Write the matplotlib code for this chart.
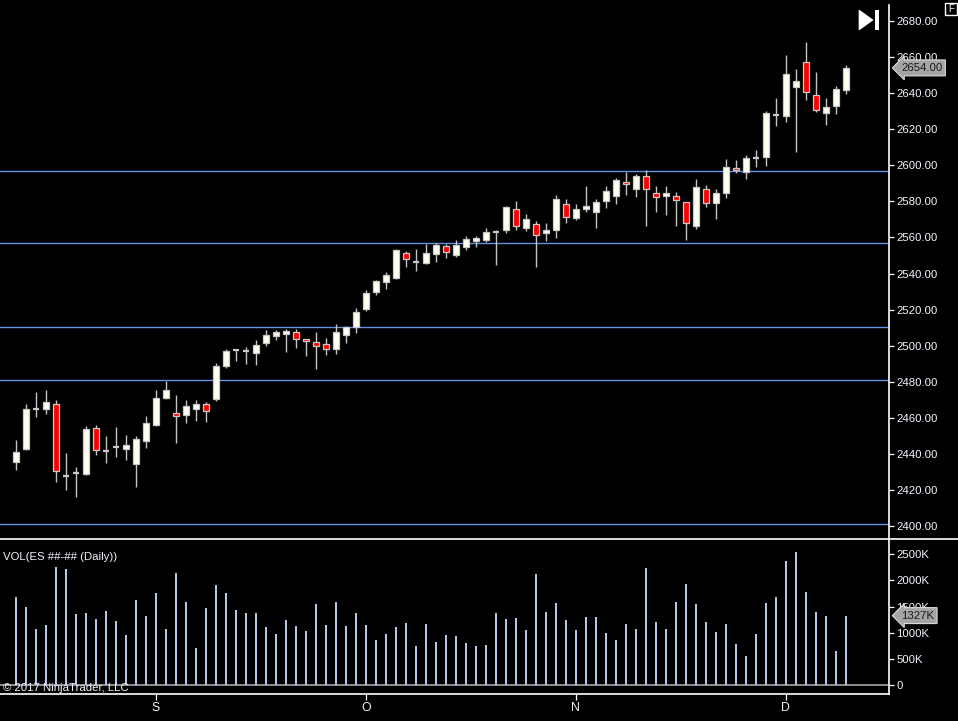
import numpy as np
import matplotlib
matplotlib.use("Agg")
import matplotlib.pyplot as plt
from matplotlib.patches import Polygon, Rectangle
from matplotlib.lines import Line2D
import matplotlib.transforms as mtransforms

plt.rcParams['font.family'] = ['Liberation Sans', 'DejaVu Sans']

# ---------------- data ----------------
opens = [2435.3, 2442.5, 2465.0, 2465.0, 2467.5, 2427.6, 2429.6, 2429.0, 2454.2, 2441.7,
         2443.6, 2442.9, 2434.5, 2447.3, 2456.2, 2471.1, 2462.5, 2461.4, 2464.7, 2467.5,
         2470.2, 2488.9, 2497.7, 2497.2, 2496.1, 2501.6, 2505.5, 2506.3, 2507.4, 2503.5,
         2501.9, 2500.7, 2498.0, 2505.7, 2510.5, 2520.5, 2529.9, 2535.5, 2537.7, 2551.2,
         2546.2, 2546.0, 2551.0, 2555.1, 2550.4, 2554.9, 2558.2, 2558.7, 2563.2, 2563.9,
         2575.6, 2565.1, 2567.3, 2562.3, 2563.9, 2578.4, 2570.6, 2575.6, 2573.9, 2580.0,
         2582.8, 2590.6, 2586.7, 2593.9, 2584.5, 2582.8, 2582.8, 2579.5, 2566.5, 2586.7,
         2578.9, 2584.5, 2598.3, 2596.1, 2604.2, 2604.8, 2627.9, 2627.5, 2643.2, 2657.1,
         2638.8, 2629.2, 2633.0, 2641.9]
highs = [2447.7, 2467.6, 2474.3, 2475.4, 2469.9, 2440.5, 2432.7, 2455.4, 2456.0, 2449.9,
         2454.9, 2450.5, 2449.9, 2461.0, 2475.4, 2480.4, 2472.6, 2469.9, 2469.9, 2468.8,
         2490.4, 2498.1, 2497.9, 2499.2, 2503.1, 2508.7, 2508.7, 2509.2, 2509.2, 2503.7,
         2507.6, 2504.2, 2512.0, 2511.1, 2520.7, 2530.9, 2536.4, 2540.7, 2553.6, 2552.5,
         2553.6, 2556.4, 2556.7, 2556.2, 2558.4, 2560.6, 2560.6, 2565.1, 2563.9, 2577.4,
         2580.0, 2572.8, 2568.9, 2567.8, 2583.4, 2581.1, 2578.4, 2588.3, 2581.1, 2588.3,
         2592.8, 2596.3, 2595.0, 2597.2, 2588.3, 2588.5, 2585.0, 2579.8, 2592.2, 2588.9,
         2586.7, 2603.3, 2602.8, 2605.5, 2608.3, 2629.9, 2637.1, 2661.1, 2653.4, 2668.4,
         2651.7, 2637.1, 2643.8, 2655.4]
lows = [2431.0, 2442.0, 2460.6, 2462.3, 2424.6, 2420.1, 2416.2, 2428.4, 2439.5, 2435.1,
        2438.4, 2436.8, 2421.8, 2443.4, 2455.6, 2470.6, 2446.2, 2457.3, 2458.4, 2457.8,
        2469.5, 2487.8, 2491.7, 2490.0, 2489.4, 2500.0, 2503.3, 2496.6, 2498.9, 2494.4,
        2487.2, 2495.0, 2495.5, 2501.6, 2507.2, 2519.4, 2528.2, 2531.4, 2537.1, 2543.8,
        2541.6, 2545.4, 2546.5, 2548.8, 2549.3, 2553.2, 2554.9, 2557.5, 2544.9, 2562.3,
        2563.9, 2563.4, 2543.8, 2558.2, 2559.9, 2568.2, 2569.5, 2573.9, 2565.1, 2576.1,
        2578.4, 2583.4, 2582.2, 2566.2, 2573.9, 2572.6, 2566.5, 2558.6, 2564.5, 2577.0,
        2570.4, 2581.7, 2595.6, 2592.2, 2599.2, 2599.8, 2621.9, 2624.2, 2607.5, 2636.4,
        2629.7, 2622.5, 2628.6, 2639.7]
closes = [2440.9, 2464.7, 2465.0, 2468.6, 2430.3, 2427.6, 2429.6, 2453.6, 2442.3, 2441.7,
          2443.6, 2444.7, 2448.1, 2456.9, 2470.8, 2475.2, 2460.8, 2466.4, 2467.5, 2463.6,
          2488.7, 2497.0, 2497.7, 2497.2, 2500.2, 2505.7, 2507.4, 2508.0, 2503.5, 2502.4,
          2499.6, 2498.0, 2507.6, 2510.5, 2518.5, 2529.0, 2535.7, 2539.0, 2552.9, 2547.9,
          2546.2, 2551.2, 2555.6, 2552.1, 2555.6, 2559.0, 2559.5, 2562.8, 2563.2, 2576.7,
          2566.2, 2570.1, 2561.2, 2563.9, 2581.1, 2571.2, 2575.6, 2577.3, 2579.5, 2585.6,
          2591.7, 2589.5, 2593.9, 2586.7, 2582.2, 2584.5, 2580.6, 2567.8, 2587.8, 2578.9,
          2584.5, 2598.9, 2597.2, 2603.9, 2604.2, 2628.8, 2627.9, 2650.4, 2646.6, 2640.8,
          2630.8, 2632.1, 2642.1, 2654.0]
volume_k = [1679, 1489, 1070, 1146, 2249, 2211, 1356, 1375, 1260, 1413,
            1222, 956, 1622, 1318, 1755, 1070, 2135, 1584, 709, 1470,
            1907, 1755, 1432, 1375, 1375, 1108, 975, 1241, 1127, 1032,
            1546, 1146, 1584, 1127, 1375, 1146, 861, 975, 1108, 1184,
            747, 1165, 823, 956, 937, 804, 747, 766, 1375, 1260,
            1279, 1051, 2116, 1394, 1565, 1241, 1051, 1298, 1298, 994,
            861, 1165, 1070, 2230, 1203, 1070, 1584, 1926, 1546, 1203,
            1013, 1165, 785, 557, 975, 1565, 1679, 2363, 2534, 1774,
            1394, 1318, 652, 1327]
level_lines = [2596.7, 2556.7, 2510.3, 2480.8, 2400.9]
month_pos = [14, 35, 56, 77]
month_labels = ['S', 'O', 'N', 'D']
price_ticks = list(range(2400, 2681, 20))
vol_ticks = [0, 500, 1000, 1500, 2000, 2500]
last_price = closes[-1]
last_vol = volume_k[-1]
vol_title = 'VOL(ES ##-## (Daily))'
copyright_txt = '\u00a9 2017 NinjaTrader, LLC'

# ---------------- layout ----------------
W, H = 958, 721
fig = plt.figure(figsize=(W / 100, H / 100), dpi=100, facecolor='black')

axis_x = 889.3
main_top, main_bot = 5, 539
vol_top, vol_bot = 539, 694.3

ax = fig.add_axes([0, 1 - main_bot / H, axis_x / W, (main_bot - main_top) / H])
axv = fig.add_axes([0, 1 - vol_bot / H, axis_x / W, (vol_bot - vol_top) / H])

TXT = '#f2f5ff'
FS = 8.2
for a in (ax, axv):
    a.set_facecolor('black')
    for s in ('left', 'top', 'bottom'):
        a.spines[s].set_visible(False)
    a.spines['right'].set_color('white')
    a.spines['right'].set_linewidth(1.2)
    a.yaxis.tick_right()
    a.tick_params(axis='y', colors='white', labelcolor=TXT, labelsize=FS,
                  length=3.8, width=0.9, pad=1.2, direction='out')

n = len(closes)
x = np.arange(n)
O = np.array(opens); Hh = np.array(highs); L = np.array(lows); C = np.array(closes)

# price pixel scale: 2400 at y=526, 2680 at y=21
ppx = (526 - 21) / 280.0
ax.set_ylim(2400 - (main_bot - 526) / ppx, 2680 + (21 - main_top) / ppx)
xl = (-15.7 / 10.0, (axis_x - 15.7) / 10.0)
ax.set_xlim(*xl)
axv.set_xlim(*xl)

for lv in level_lines:
    ax.axhline(lv, color='#6692e0', lw=1.0, zorder=0.5)

ax.vlines(x, L, Hh, color='#c4c4c4', lw=1.0, zorder=1)
diff = C - O
doji = np.abs(diff) < 0.05
body = ~doji
up = C >= O
cols = np.where(up, '#fffff2', '#ff0000')
ax.bar(x[body], np.abs(diff[body]), bottom=np.minimum(O, C)[body], width=0.56,
       color=cols[body], edgecolor='#c8c8c8', linewidth=0.9, zorder=2)
ax.hlines(C[doji], x[doji] - 0.32, x[doji] + 0.32, color='#c8c8c8', lw=1.6, zorder=2)

ax.set_yticks(price_ticks)
ax.set_yticklabels([f'{t:.2f}' for t in price_ticks])
ax.set_xticks([])

# volume
vpx = (685.3 - 554) / 2500.0
axv.set_ylim(-(vol_bot - 685.3) / vpx, 2500 + (554 - vol_top) / vpx)
axv.axhline(0, color='#a8a8a8', lw=1.2, zorder=0.5)
axv.bar(x, volume_k, width=0.22, color='#b4c6e4', zorder=2)
axv.set_yticks(vol_ticks)
axv.set_yticklabels(['0' if t == 0 else f'{t}K' for t in vol_ticks])
axv.spines['bottom'].set_visible(True)
axv.spines['bottom'].set_color('white')
axv.spines['bottom'].set_linewidth(1.2)
axv.set_xticks(month_pos)
axv.set_xticklabels(month_labels)
axv.tick_params(axis='x', colors='white', labelcolor=TXT, labelsize=FS + 0.6,
                length=4, width=0.9, pad=1.5)

# last value tags
tag_kw = dict(ha='left', va='center', fontsize=FS, color='#1a1a1a',
              textcoords='offset points', annotation_clip=False,
              bbox=dict(boxstyle='larrow,pad=0.26', fc='#a4a4a4', ec='#dcdcdc', lw=0.8))
ax.annotate(f'{last_price:.2f}', xy=(1.0, last_price),
            xycoords=mtransforms.blended_transform_factory(ax.transAxes, ax.transData),
            xytext=(8.5, 0), zorder=10, **tag_kw)
axv.annotate(f'{last_vol}K', xy=(1.0, last_vol),
             xycoords=mtransforms.blended_transform_factory(axv.transAxes, axv.transData),
             xytext=(8.5, 0), zorder=10, **tag_kw)

# overlay in pixel coordinates
ov = fig.add_axes([0, 0, 1, 1], facecolor='none')
ov.set_xlim(0, W); ov.set_ylim(H, 0); ov.axis('off')
ov.add_line(Line2D([0, W], [main_bot, main_bot], color='white', lw=1.2))
ov.text(3, 557, vol_title, color=TXT, fontsize=FS, ha='left', va='center')
ov.text(3, 688, copyright_txt, color=TXT, fontsize=FS, ha='left', va='center')
# play-to-end icon
ov.add_patch(Polygon([[859, 10], [859, 30], [873, 20]], closed=True, fc='white', ec='white', lw=0.5))
ov.add_patch(Rectangle((875.5, 10), 3.5, 20, fc='white', ec='none'))
# F box
ov.add_patch(Rectangle((945.5, 2.5), 11.5, 12.5, fc='black', ec='white', lw=1.0))
ov.text(951.3, 9, 'F', color='white', fontsize=7, ha='center', va='center')

fig.savefig('out.png', dpi=100, facecolor='black')
